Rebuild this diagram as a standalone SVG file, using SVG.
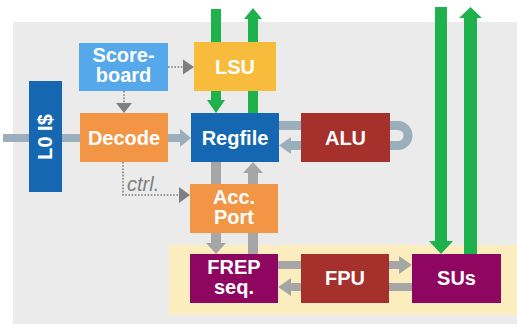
<svg xmlns="http://www.w3.org/2000/svg" width="517" height="326" viewBox="0 0 517 326">
<defs>
<style>
.lbl{font-family:"Liberation Sans",Arial,sans-serif;font-weight:bold;font-size:20px;fill:#fff;text-anchor:middle}
.dot{fill:none;stroke:#7f7f7f;stroke-width:1.6;stroke-dasharray:1.6 1.6}
.gy{fill:#a6a6a6}
.bg{fill:#9aafbb}
.gr{fill:#1eb14c}
</style>
</defs>
<rect x="0" y="0" width="517" height="326" fill="#fff"/>
<rect x="13" y="22" width="504" height="302" fill="#ebebeb"/>
<rect x="169" y="245" width="348" height="70" fill="#fcedbf"/>
<g id="connectors">
<path class="gr" d="M211,9 H221 V100 H225 L216,113 L207,100 H211 Z"/>
<path class="gr" d="M248,113 V19 H244 L253,8 L262,19 H258 V113 Z"/>
<path class="gr" d="M435,7 H447 V241 H453 L441,254 L429,241 H435 Z"/>
<path class="gr" d="M464,254 V18 H459 L470.5,7 L482,18 H477 V254 Z"/>
<rect class="bg" x="3" y="134" width="77" height="8"/>
<path class="bg" d="M168,134 H180 V129 L191,138 L180,147 V142 H168 Z"/>
<path d="M279,125.5 H398 A10,10 0 0 1 398,145.5 H288" fill="none" stroke="#9aafbb" stroke-width="9"/>
<path class="bg" d="M279,145.5 L291,137 V154 Z"/>
<path class="gy" d="M211,162 H221 V243 H226 L216,254 L206,243 H211 Z"/>
<path class="gy" d="M248,254 V173 H243 L253,162 L263,173 H258 V254 Z"/>
<path class="gy" d="M278,261 H399 V256 L412,265 L399,274 V269 H278 Z"/>
<path class="gy" d="M412,283 V291 H291 V296 L278,287 L291,278 V283 Z"/>
<path class="dot" d="M168,67 H184"/>
<path fill="#7f7f7f" d="M183,59.5 L194,67 L183,74.5 Z"/>
<path class="dot" d="M124,91 V104"/>
<path fill="#7f7f7f" d="M116,103 L132,103 L124,113 Z"/>
<path class="dot" d="M123,162 V195 H181"/>
<path fill="#7f7f7f" d="M179,187 L190,195 L179,203 Z"/>
<text x="127" y="191" font-family="'Liberation Sans',Arial,sans-serif" font-style="italic" font-size="20" fill="#7f7f7f">ctrl.</text>
</g>
<g id="scoreboard">
<rect x="79" y="43" width="89" height="48" fill="#55a8e9"/>
<text class="lbl" x="123.5" y="62">Score-</text>
<text class="lbl" x="123.5" y="82">board</text>
</g>
<g id="lsu">
<rect x="194" y="42" width="82" height="49" fill="#f8bc3c"/>
<text class="lbl" x="235" y="74">LSU</text>
</g>
<g id="l0">
<rect x="29" y="81" width="33" height="111" fill="#1467b0"/>
<text class="lbl" transform="translate(52,137) rotate(-90)" x="0" y="0">L0 I$</text>
</g>
<g id="decode">
<rect x="80" y="113" width="88" height="49" fill="#f29645"/>
<text class="lbl" x="124" y="145">Decode</text>
</g>
<g id="regfile">
<rect x="191" y="113" width="88" height="49" fill="#1467b0"/>
<text class="lbl" x="235" y="145">Regfile</text>
</g>
<g id="alu">
<rect x="301" y="113" width="89" height="49" fill="#a5302c"/>
<text class="lbl" x="345.5" y="145">ALU</text>
</g>
<g id="accport">
<rect x="190" y="184" width="88" height="49" fill="#f29645"/>
<text class="lbl" x="234" y="204">Acc.</text>
<text class="lbl" x="234" y="224">Port</text>
</g>
<g id="frep">
<rect x="190" y="254" width="88" height="49" fill="#8e0660"/>
<text class="lbl" x="234" y="274">FREP</text>
<text class="lbl" x="234" y="294">seq.</text>
</g>
<g id="fpu">
<rect x="301" y="254" width="88" height="49" fill="#a5302c"/>
<text class="lbl" x="345" y="285">FPU</text>
</g>
<g id="sus">
<rect x="412" y="254" width="89" height="49" fill="#8e0660"/>
<text class="lbl" x="456.5" y="285">SUs</text>
</g>
</svg>
